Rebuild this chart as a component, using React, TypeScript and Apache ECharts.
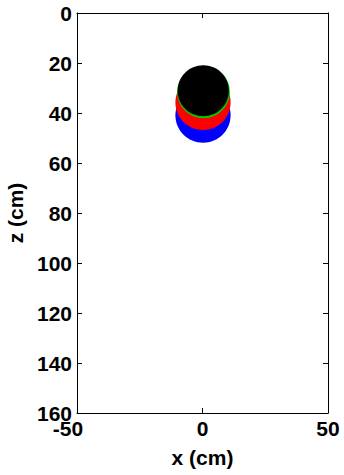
import React, { useEffect, useRef } from "react";
import * as echarts from "echarts";

// Axis ranges and ticks
const xTicks = [-50, 0, 50];
const zTicks = [0, 20, 40, 60, 80, 100, 120, 140, 160];

// Discs of points (drawn in order: blue, red, green, black)
const seriesNames = ["blue", "red", "green", "black"];
const seriesColors = ["#0000ff", "#ff0000", "#00cc00", "#000000"];
const centerX = [0.2, 0.2, 0.4, 0.3];
const centerZ = [40.9, 35.8, 31.6, 31.1];
const radius = [11, 11, 10.5, 10.2];

const FONT = "'Liberation Sans', Arial, Helvetica, sans-serif";

export default function App() {
  const ref = useRef<HTMLDivElement>(null);
  useEffect(() => {
    document.body.style.margin = "0";
    const chart = echarts.init(ref.current!, null, { renderer: "svg" });
    const axisLine = { show: true, onZero: false, lineStyle: { color: "#000", width: 1 } };
    const tick = { show: true, inside: true, length: 5, lineStyle: { color: "#000" } };
    const labelStyle = {
      color: "#000",
      fontSize: 21,
      fontFamily: FONT,
      fontWeight: "bold" as const,
      lineHeight: 14,
    };
    chart.setOption({
      animation: false,
      backgroundColor: "#fff",
      grid: {
        left: 77,
        right: 16,
        top: 13,
        bottom: 62,
        containLabel: false,
        outerBoundsMode: "none",
      },
      xAxis: [
        {
          type: "value",
          min: xTicks[0],
          max: xTicks[xTicks.length - 1],
          interval: 50,
          position: "bottom",
          axisLine,
          axisTick: tick,
          splitLine: { show: false },
          axisLabel: {
            ...labelStyle,
            margin: 8,
            formatter: (v: number) => (v === -50 ? "{m|-50}" : String(v)),
            rich: { m: { ...labelStyle, padding: [0, 18, 0, 0] } },
          },
          name: "x (cm)",
          nameLocation: "middle",
          nameGap: 33,
          nameTextStyle: { ...labelStyle, lineHeight: 22 },
        },
        {
          type: "value",
          min: xTicks[0],
          max: xTicks[xTicks.length - 1],
          interval: 50,
          position: "top",
          axisLine,
          axisTick: tick,
          splitLine: { show: false },
          axisLabel: { show: false },
        },
      ],
      yAxis: [
        {
          type: "value",
          inverse: true,
          min: zTicks[0],
          max: zTicks[zTicks.length - 1],
          interval: 20,
          position: "left",
          axisLine,
          axisTick: tick,
          splitLine: { show: false },
          axisLabel: { ...labelStyle, margin: 5 },
          name: "z (cm)",
          nameLocation: "middle",
          nameGap: 46,
          nameTextStyle: { ...labelStyle, lineHeight: 22 },
        },
        {
          type: "value",
          inverse: true,
          min: zTicks[0],
          max: zTicks[zTicks.length - 1],
          interval: 20,
          position: "right",
          axisLine,
          axisTick: tick,
          splitLine: { show: false },
          axisLabel: { show: false },
        },
      ],
      series: seriesNames.map((name, i) => ({
        name,
        type: "custom",
        xAxisIndex: 0,
        yAxisIndex: 0,
        clip: true,
        itemStyle: { color: seriesColors[i] },
        data: [[centerX[i], centerZ[i], radius[i]]],
        renderItem: (params: any, api: any) => {
          const c = api.coord([api.value(0), api.value(1)]);
          const s = api.size([api.value(2), api.value(2)]);
          return {
            type: "ellipse",
            shape: { cx: c[0], cy: c[1], rx: Math.abs(s[0]), ry: Math.abs(s[1]) },
            style: { fill: seriesColors[i] },
          };
        },
      })),
    });
    return () => chart.dispose();
  }, []);
  return <div ref={ref} style={{ width: 344, height: 475 }} />;
}
